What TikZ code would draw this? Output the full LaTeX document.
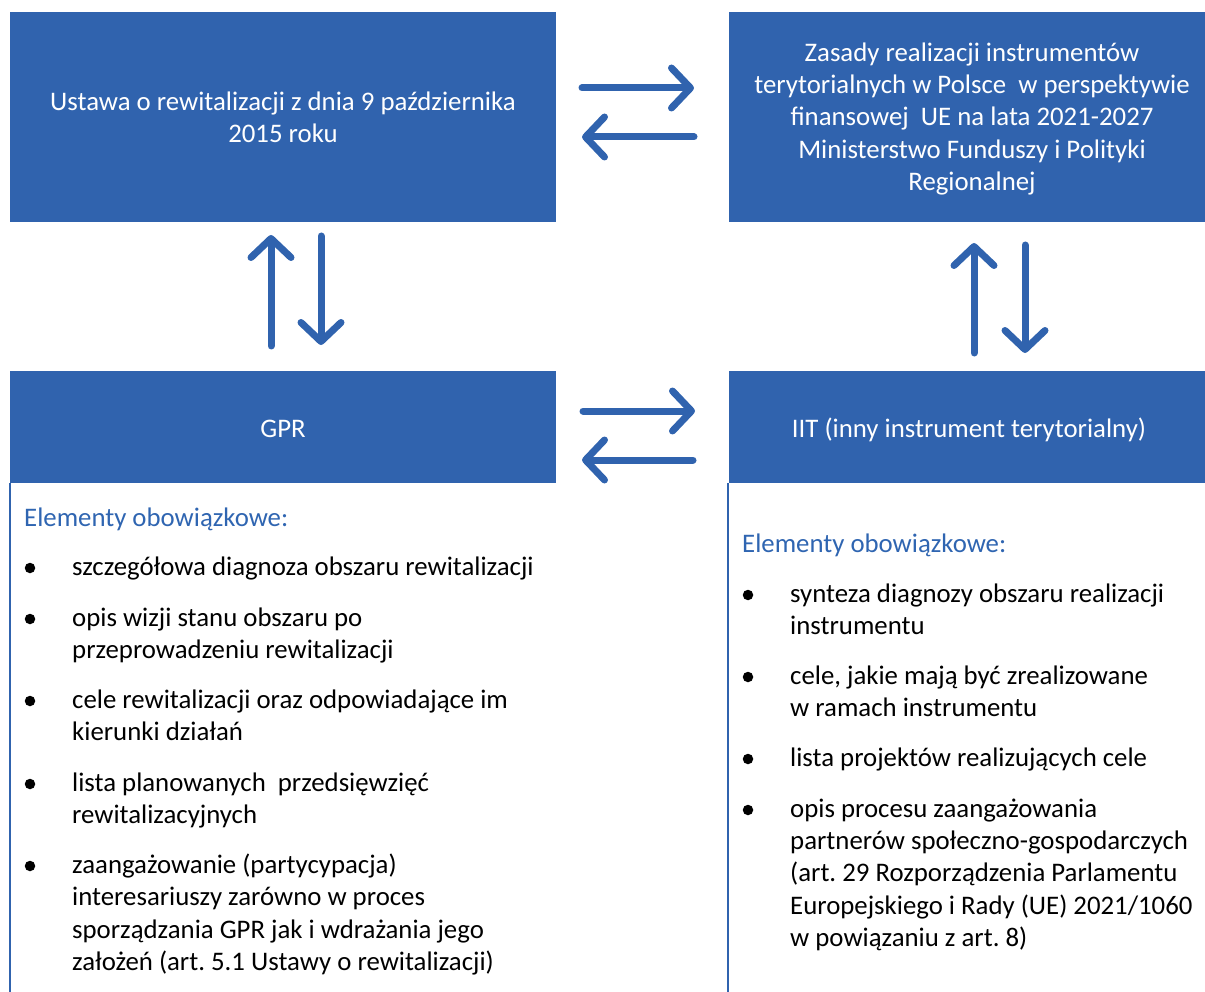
\documentclass[tikz,border=0pt]{standalone}
\usepackage{fontspec}
\setmainfont{Carlito}
\frenchspacing
\usetikzlibrary{arrows.meta,calc}
\definecolor{boxblue}{HTML}{3063AE}
\definecolor{headblue}{HTML}{2F65B1}
\tikzset{
  bluebox/.style={fill=boxblue, draw=none, inner sep=0pt, anchor=north west},
  wtext/.style={text=white, font=\fontsize{26.8}{32.4}\selectfont, inner sep=0pt, anchor=base},
  btext/.style={text=black, font=\fontsize{26.8}{32.4}\selectfont, inner sep=0pt, anchor=base west},
  htext/.style={text=headblue, font=\fontsize{26.8}{32.4}\selectfont, inner sep=0pt, anchor=base west},
  bul/.style={circle, fill=black, inner sep=0pt, minimum size=10.5pt},
  conn/.style={draw=boxblue, line width=7pt, line cap=round,
    -{Straight Barb[length=19pt, width=40pt, round]}},
  sideline/.style={draw=boxblue, line width=2.5pt}
}
\begin{document}
\begin{tikzpicture}[x=1pt, y=-1pt]
\useasboundingbox (0,0) rectangle (1205,992);
% boxes
\node[bluebox, minimum width=546pt, minimum height=210pt] (ustawa) at (10,12) {};
\node[bluebox, minimum width=476pt, minimum height=210pt] (zasady) at (729,12) {};
\node[bluebox, minimum width=546pt, minimum height=112pt] (gpr) at (10,371) {};
\node[bluebox, minimum width=476pt, minimum height=112pt] (iit) at (729,371) {};
% side lines of lower boxes
\coordinate (gprbottom) at (10,992);
\coordinate (iitbottom) at (728,992);
\coordinate (gprtop) at (10,483);
\coordinate (iittop) at (728,483);
\draw[sideline] (gprtop) -- (gprbottom);
\draw[sideline] (iittop) -- (iitbottom);
% box texts
\node[wtext] (u1) at (283,111) {Ustawa o rewitalizacji z dnia 9 października};
\node[wtext] (u2) at (283,143) {2015 roku};
\node[wtext] (z1) at (972,62) {Zasady realizacji instrumentów};
\node[wtext] (z2) at (972,94) {terytorialnych w Polsce\ \ w perspektywie};
\node[wtext] (z3) at (972,126) {finansowej\ \ UE na lata 2021-2027};
\node[wtext] (z4) at (972,159) {Ministerstwo Funduszy i Polityki};
\node[wtext] (z5) at (972,191) {Regionalnej};
\node[wtext] (g1) at (283,437) {GPR};
\node[wtext] (i1) at (969,437) {IIT (inny instrument terytorialny)};
% arrows
\coordinate (a1s) at (582,88);  \coordinate (a1e) at (694,88);
\coordinate (a2s) at (694,137); \coordinate (a2e) at (582,137);
\coordinate (a3s) at (583,411); \coordinate (a3e) at (695,411);
\coordinate (a4s) at (693,460); \coordinate (a4e) at (582,460);
\coordinate (v1s) at (271,346); \coordinate (v1e) at (271,235);
\coordinate (v2s) at (321,236); \coordinate (v2e) at (321,345);
\coordinate (v3s) at (974,353); \coordinate (v3e) at (974,243);
\coordinate (v4s) at (1025,245); \coordinate (v4e) at (1025,353);
\draw[conn] (a1s) -- (a1e);
\draw[conn] (a2s) -- (a2e);
\draw[conn] (a3s) -- (a3e);
\draw[conn] (a4s) -- (a4e);
\draw[conn] (v1s) -- (v1e);
\draw[conn] (v2s) -- (v2e);
\draw[conn] (v3s) -- (v3e);
\draw[conn] (v4s) -- (v4e);
% left list
\node[htext] (lh) at (24,526) {Elementy obowiązkowe:};
\node[bul] (lb1) at (30,568) {};
\node[btext] (l11) at (72,575) {szczegółowa diagnoza obszaru rewitalizacji};
\node[bul] (lb2) at (30,619) {};
\node[btext] (l21) at (72,626) {opis wizji stanu obszaru po};
\node[btext] (l22) at (72,658) {przeprowadzeniu rewitalizacji};
\node[bul] (lb3) at (30,701) {};
\node[btext] (l31) at (72,708) {cele rewitalizacji oraz odpowiadające im};
\node[btext] (l32) at (72,740) {kierunki działań};
\node[bul] (lb4) at (30,784) {};
\node[btext] (l41) at (72,791) {lista planowanych\ \ przedsięwzięć};
\node[btext] (l42) at (72,823) {rewitalizacyjnych};
\node[bul] (lb5) at (30,866) {};
\node[btext] (l51) at (72,873) {zaangażowanie (partycypacja)};
\node[btext] (l52) at (72,905) {interesariuszy zarówno w proces};
\node[btext] (l53) at (72,938) {sporządzania GPR jak i wdrażania jego};
\node[btext] (l54) at (72,970) {założeń (art. 5.1 Ustawy o rewitalizacji)};
% right list
\node[htext] (rh) at (742,552) {Elementy obowiązkowe:};
\node[bul] (rb1) at (748,595) {};
\node[btext] (r11) at (790,602) {synteza diagnozy obszaru realizacji};
\node[btext] (r12) at (790,634) {instrumentu};
\node[bul] (rb2) at (748,677) {};
\node[btext] (r21) at (790,684) {cele, jakie mają być zrealizowane};
\node[btext] (r22) at (790,716) {w ramach instrumentu};
\node[bul] (rb3) at (748,759) {};
\node[btext] (r31) at (790,766) {lista projektów realizujących cele};
\node[bul] (rb4) at (748,810) {};
\node[btext] (r41) at (790,817) {opis procesu zaangażowania};
\node[btext] (r42) at (790,849) {partnerów społeczno-gospodarczych};
\node[btext] (r43) at (790,881) {(art. 29 Rozporządzenia Parlamentu};
\node[btext] (r44) at (790,914) {Europejskiego i Rady (UE) 2021/1060};
\node[btext] (r45) at (790,946) {w powiązaniu z art. 8)};
\end{tikzpicture}
\end{document}
